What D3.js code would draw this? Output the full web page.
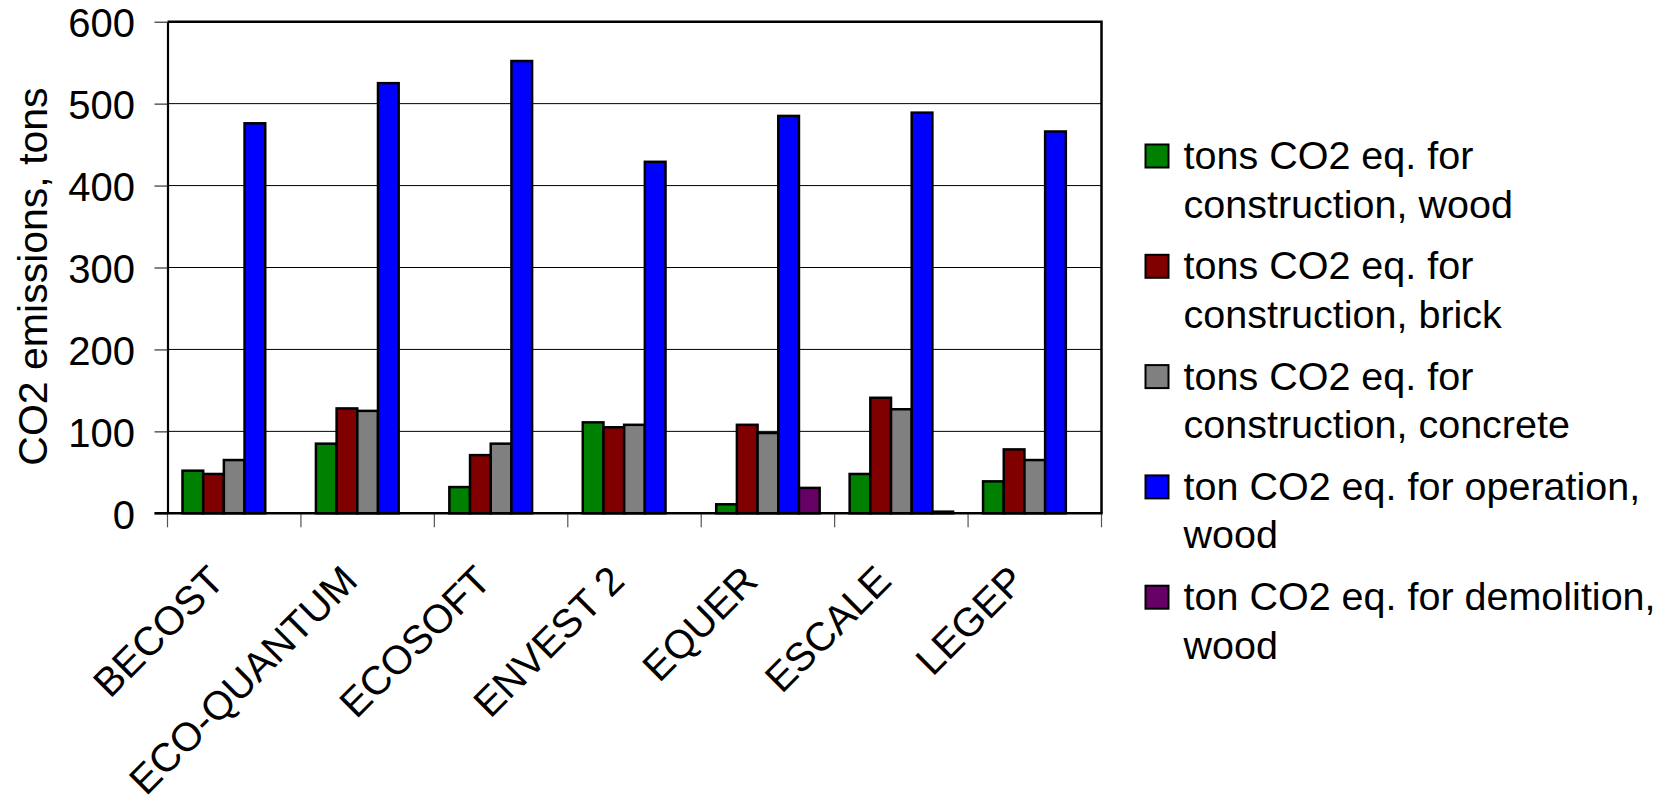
<!DOCTYPE html>
<html>
<head>
<meta charset="utf-8">
<script src="https://cdn.jsdelivr.net/npm/d3@7"></script>
<style>
  html, body { margin: 0; padding: 0; background: #fff; }
  svg { display: block; }
  text { font-family: "Liberation Sans", Arial, Helvetica, sans-serif; fill: #000; }
</style>
</head>
<body>
<svg id="chart" width="1669" height="801"></svg>
<script>
// LCA tools compared: CO2 emissions per building variant
const categories = ["BECOST", "ECO-QUANTUM", "ECOSOFT", "ENVEST 2", "EQUER", "ESCALE", "LEGEP"];

const seriesNames = [
  "tons CO2 eq. for\nconstruction, wood",
  "tons CO2 eq. for\nconstruction, brick",
  "tons CO2 eq. for\nconstruction, concrete",
  "ton CO2 eq. for operation,\nwood",
  "ton CO2 eq. for demolition,\nwood"
];
const seriesColors = ["#008000", "#800000", "#808080", "#0000FF", "#660066"];

const constructionWood     = [52, 85, 32, 111, 11, 48, 39];
const constructionBrick    = [48, 128, 71, 105, 108, 141, 78];
const constructionConcrete = [65, 125, 85, 108, 98, 127, 65];
const operationWood        = [476, 525, 552, 429, 485, 489, 466];
const demolitionWood       = [0, 0, 0, 0, 31, 2, 0];

const yTicks = [0, 100, 200, 300, 400, 500, 600];
const yTitle = "CO2 emissions, tons";

const seriesValues = [constructionWood, constructionBrick, constructionConcrete, operationWood, demolitionWood];

// layout
const plot = { left: 167.5, right: 1101.5, top: 21.7, bottom: 513.3 };
const svg = d3.select("#chart");

const x0 = d3.scaleBand().domain(categories).range([plot.left, plot.right]).padding(0);
const x1 = d3.scaleBand().domain(d3.range(seriesNames.length))
  .range([0, x0.bandwidth()]).paddingInner(0).paddingOuter(0.725);
const y = d3.scaleLinear().domain([0, 600]).range([plot.bottom, plot.top]);

// horizontal gridlines
svg.append("g").selectAll("line").data(yTicks.filter(t => t > 0 && t < 600)).join("line")
  .attr("x1", plot.left).attr("x2", plot.right)
  .attr("y1", d => y(d)).attr("y2", d => y(d))
  .attr("stroke", "#000").attr("stroke-width", 1);

// bars
const barData = [];
categories.forEach((c, ci) => {
  seriesValues.forEach((vals, si) => {
    if (vals[ci] > 0) barData.push({ c, si, v: vals[ci] });
  });
});
svg.append("g").selectAll("rect").data(barData).join("rect")
  .attr("x", d => x0(d.c) + x1(d.si))
  .attr("width", x1.bandwidth())
  .attr("y", d => y(d.v))
  .attr("height", d => y(0) - y(d.v))
  .attr("fill", d => seriesColors[d.si])
  .attr("stroke", "#000").attr("stroke-width", 2.5);

// plot frame (top and right)
svg.append("path")
  .attr("d", `M${plot.left},${plot.top}H${plot.right}V${plot.bottom}`)
  .attr("fill", "none").attr("stroke", "#000").attr("stroke-width", 2.5);

// y axis
const yAxis = svg.append("g").attr("transform", `translate(${plot.left},0)`)
  .call(d3.axisLeft(y).tickValues(yTicks).tickSize(13).tickPadding(19.5).tickSizeOuter(0));
yAxis.select(".domain").attr("stroke", "#000").attr("stroke-width", 2.2);
yAxis.selectAll(".tick line").attr("stroke", "#333").attr("stroke-width", 1.2);
yAxis.selectAll(".tick text").attr("font-size", 40).attr("dy", "0.37em")
  .attr("font-family", "'Liberation Sans', Arial, sans-serif").attr("fill", "#000");

// x axis: baseline, boundary ticks, rotated labels
const xAxis = svg.append("g");
const boundaries = categories.map(c => x0(c)).concat([plot.right]);
xAxis.selectAll("line.tick").data(boundaries).join("line").attr("class", "tick")
  .attr("x1", d => d).attr("x2", d => d)
  .attr("y1", plot.bottom).attr("y2", plot.bottom + 14)
  .attr("stroke", "#555").attr("stroke-width", 1.2);
xAxis.append("line")
  .attr("x1", plot.left - 13).attr("x2", plot.right + 1.2)
  .attr("y1", plot.bottom).attr("y2", plot.bottom)
  .attr("stroke", "#000").attr("stroke-width", 2.5);
xAxis.selectAll("text").data(categories).join("text")
  .attr("transform", c => `translate(${x0(c) + x0.bandwidth() / 2 - 8},583) rotate(-45)`)
  .attr("text-anchor", "end")
  .attr("font-size", 40)
  .text(c => c);

// y axis title
svg.append("text")
  .attr("transform", `translate(46.5,${(plot.top + plot.bottom) / 2 + 9}) rotate(-90)`)
  .attr("text-anchor", "middle")
  .attr("font-size", 41)
  .text(yTitle);

// legend
const legend = svg.append("g").attr("transform", "translate(1145.5,0)");
const items = legend.selectAll("g").data(seriesNames).join("g")
  .attr("transform", (d, i) => `translate(0,${169 + i * 110.3})`);
items.append("rect")
  .attr("x", 0).attr("y", -24.5).attr("width", 23).attr("height", 23)
  .attr("fill", (d, i) => seriesColors[i])
  .attr("stroke", "#000").attr("stroke-width", 2);
items.append("text")
  .attr("x", 38).attr("y", 0)
  .attr("font-size", 39.5)
  .selectAll("tspan").data(d => d.split("\n")).join("tspan")
  .attr("x", 38).attr("dy", (d, i) => i === 0 ? 0 : 48.5)
  .text(d => d);
</script>
</body>
</html>
